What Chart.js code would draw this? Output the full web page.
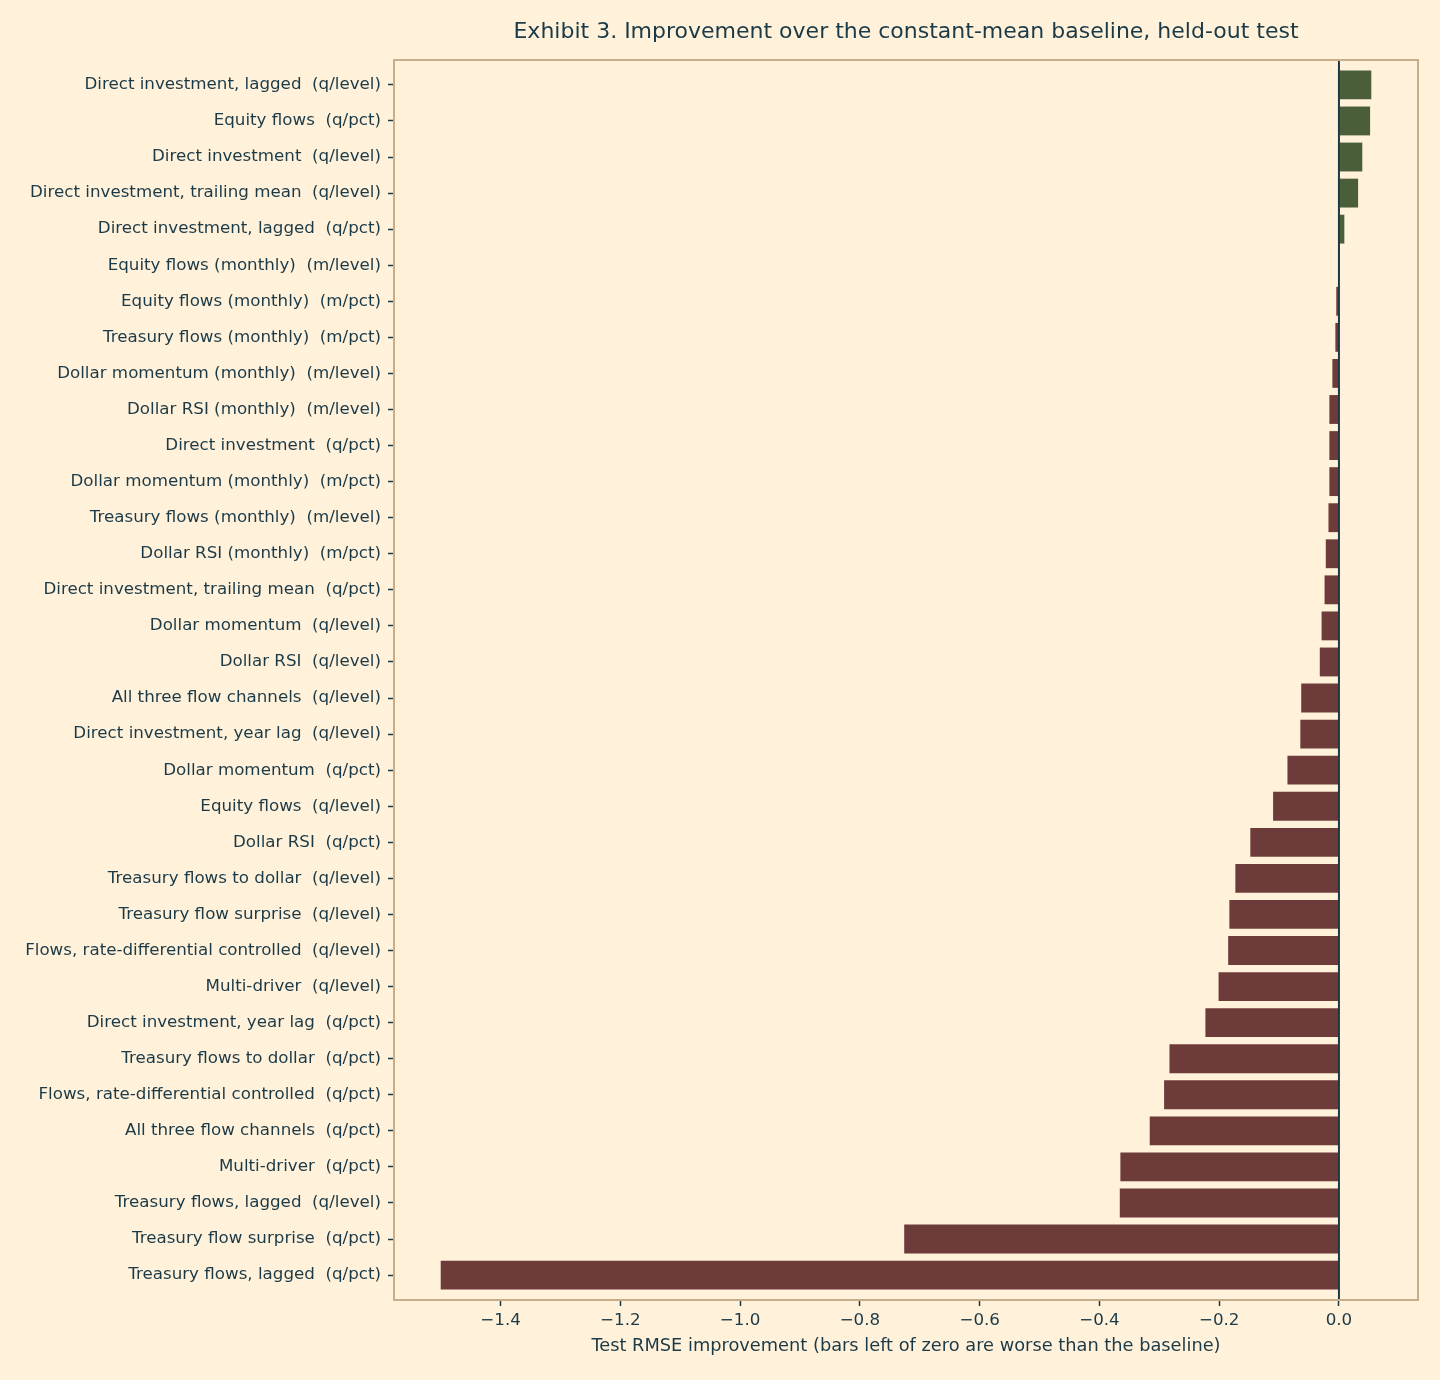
<!DOCTYPE html>
<html>
<head>
<meta charset="utf-8">
<script src="https://cdn.jsdelivr.net/npm/chart.js@4.4.1/dist/chart.umd.min.js"></script>
<style>
  html, body { margin: 0; padding: 0; background: #fff1da; }
  #wrap { width: 1440px; height: 1380px; }
</style>
</head>
<body>
<div id="wrap"><canvas id="c" width="1440" height="1380"></canvas></div>
<script>
const categories = [
  "Direct investment, lagged  (q/level)",
  "Equity flows  (q/pct)",
  "Direct investment  (q/level)",
  "Direct investment, trailing mean  (q/level)",
  "Direct investment, lagged  (q/pct)",
  "Equity flows (monthly)  (m/level)",
  "Equity flows (monthly)  (m/pct)",
  "Treasury flows (monthly)  (m/pct)",
  "Dollar momentum (monthly)  (m/level)",
  "Dollar RSI (monthly)  (m/level)",
  "Direct investment  (q/pct)",
  "Dollar momentum (monthly)  (m/pct)",
  "Treasury flows (monthly)  (m/level)",
  "Dollar RSI (monthly)  (m/pct)",
  "Direct investment, trailing mean  (q/pct)",
  "Dollar momentum  (q/level)",
  "Dollar RSI  (q/level)",
  "All three flow channels  (q/level)",
  "Direct investment, year lag  (q/level)",
  "Dollar momentum  (q/pct)",
  "Equity flows  (q/level)",
  "Dollar RSI  (q/pct)",
  "Treasury flows to dollar  (q/level)",
  "Treasury flow surprise  (q/level)",
  "Flows, rate-differential controlled  (q/level)",
  "Multi-driver  (q/level)",
  "Direct investment, year lag  (q/pct)",
  "Treasury flows to dollar  (q/pct)",
  "Flows, rate-differential controlled  (q/pct)",
  "All three flow channels  (q/pct)",
  "Multi-driver  (q/pct)",
  "Treasury flows, lagged  (q/level)",
  "Treasury flow surprise  (q/pct)",
  "Treasury flows, lagged  (q/pct)"
];
const improvement = [
  0.054, 0.052, 0.039, 0.032, 0.009, 0.0003, -0.0045, -0.006, -0.011, -0.016,
  -0.016, -0.016, -0.0175, -0.022, -0.024, -0.029, -0.032, -0.063, -0.0645, -0.086,
  -0.110, -0.148, -0.173, -0.183, -0.185, -0.201, -0.223, -0.283, -0.292, -0.316,
  -0.365, -0.366, -0.726, -1.500
];
const xTicks = [-1.4, -1.2, -1.0, -0.8, -0.6, -0.4, -0.2, 0.0];
const xMin = -1.578, xMax = 0.132;
const yMin = -0.69, yMax = categories.length - 1 + 0.69;

const TEXT = '#1b3a47';
const FRAME = '#c8ae8a';
const POS = '#4b5e3a';
const NEG = '#6e3b3b';
const FONT = "'DejaVu Sans', sans-serif";

const titleText = 'Exhibit 3. Improvement over the constant-mean baseline, held-out test';

const framePlugin = {
  id: 'frame',
  beforeDraw(chart) {
    const ctx = chart.ctx;
    ctx.save();
    ctx.fillStyle = '#fff1da';
    ctx.fillRect(0, 0, chart.width, chart.height);
    ctx.restore();
  },
  afterDatasetsDraw(chart) {
    const ctx = chart.ctx, a = chart.chartArea;
    const x0 = chart.scales.x.getPixelForValue(0);
    ctx.save();
    ctx.strokeStyle = TEXT;
    ctx.lineWidth = 2;
    ctx.beginPath();
    ctx.moveTo(x0, a.top);
    ctx.lineTo(x0, a.bottom);
    ctx.stroke();
    ctx.strokeStyle = FRAME;
    ctx.lineWidth = 2;
    ctx.strokeRect(a.left, a.top, a.right - a.left, a.bottom - a.top);
    ctx.fillStyle = TEXT;
    ctx.font = "22px " + FONT;
    ctx.textAlign = 'center';
    ctx.textBaseline = 'middle';
    ctx.fillText(titleText, (a.left + a.right) / 2, 32);
    ctx.restore();
  }
};

new Chart(document.getElementById('c'), {
  type: 'bar',
  data: {
    datasets: [{
      data: improvement.map((v, i) => ({ x: v, y: i })),
      backgroundColor: improvement.map(v => v >= 0 ? POS : NEG),
      borderWidth: 0,
      barPercentage: 0.8,
      categoryPercentage: 1.0
    }]
  },
  options: {
    indexAxis: 'y',
    responsive: false,
    animation: false,
    devicePixelRatio: 1,
    layout: { padding: { top: 60, right: 22, left: 0, bottom: 0 } },
    plugins: {
      legend: { display: false },
      title: { display: false },
      tooltip: { enabled: false }
    },
    scales: {
      x: {
        type: 'linear',
        min: xMin,
        max: xMax,
        afterBuildTicks(scale) {
          scale.ticks = xTicks.map(v => ({ value: v }));
        },
        afterFit(scale) { scale.height = 80; },
        grid: {
          drawOnChartArea: false,
          drawTicks: true,
          tickLength: 6,
          tickWidth: 1.5,
          color: TEXT
        },
        border: { display: false },
        ticks: {
          color: TEXT,
          font: { family: FONT, size: 16.7 },
          padding: 5,
          autoSkip: false,
          maxRotation: 0,
          callback: (v) => Number(v).toFixed(1).replace('-', '\u2212')
        },
        title: {
          display: true,
          text: 'Test RMSE improvement (bars left of zero are worse than the baseline)',
          color: TEXT,
          font: { family: FONT, size: 17.8 },
          padding: { top: 0, bottom: 23 }
        }
      },
      y: {
        type: 'linear',
        reverse: true,
        offset: false,
        min: yMin,
        max: yMax,
        afterBuildTicks(scale) {
          scale.ticks = categories.map((_, i) => ({ value: i }));
        },
        afterFit(scale) { scale.width = 394; },
        grid: {
          offset: false,
          drawOnChartArea: false,
          drawTicks: true,
          tickLength: 6,
          tickWidth: 1.5,
          color: TEXT
        },
        border: { display: false },
        ticks: {
          color: TEXT,
          font: { family: FONT, size: 16.7 },
          padding: 7,
          autoSkip: false,
          callback: (v) => categories[v]
        }
      }
    }
  },
  plugins: [framePlugin]
});
</script>
</body>
</html>
